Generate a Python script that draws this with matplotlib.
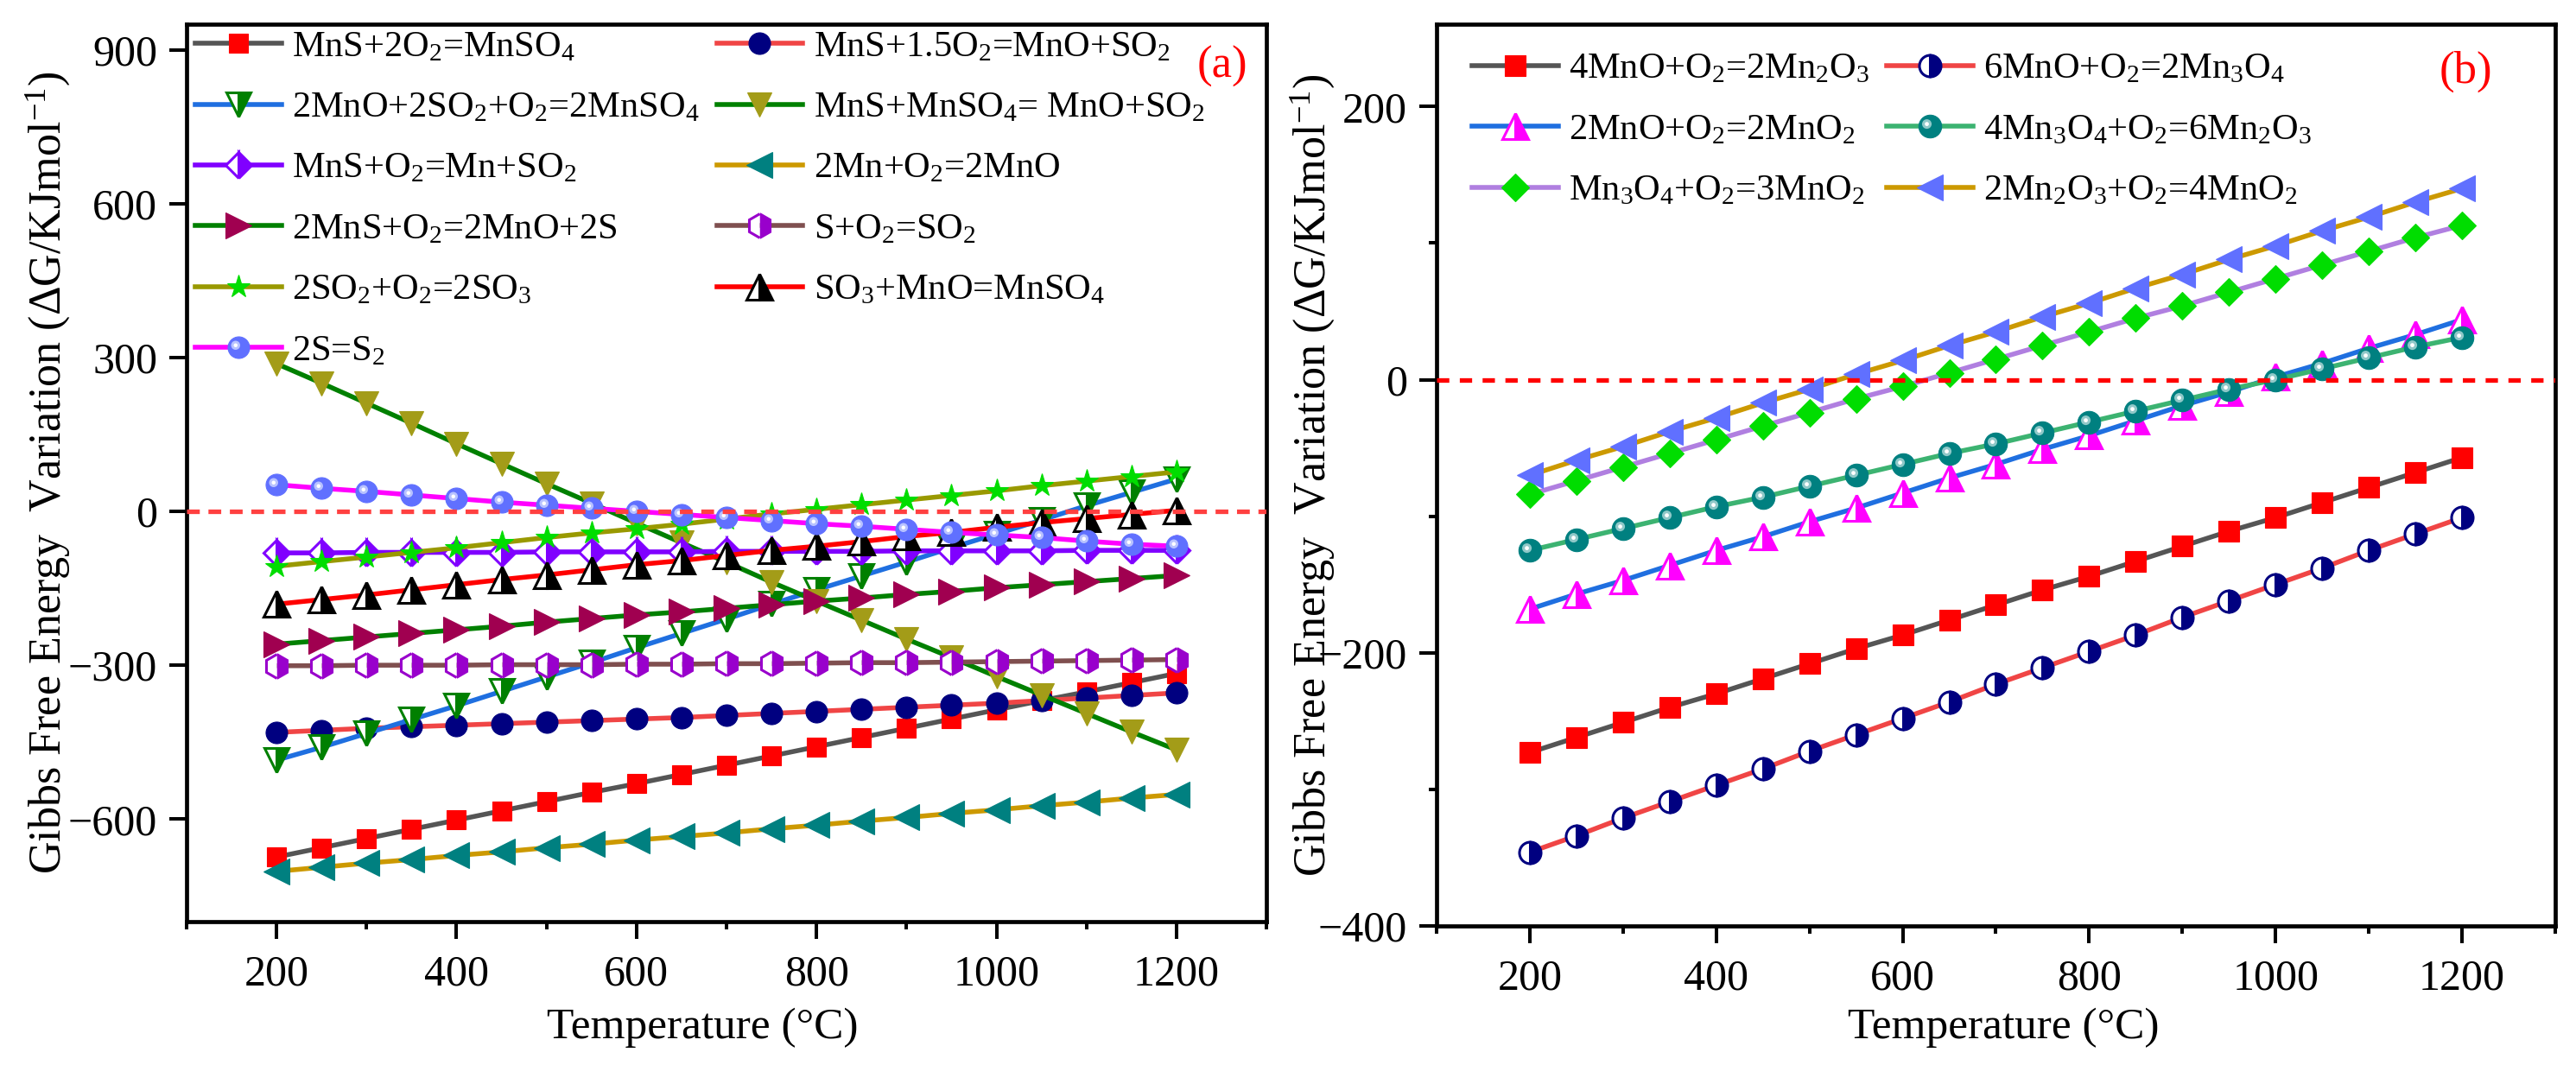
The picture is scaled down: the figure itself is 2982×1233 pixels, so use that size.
import matplotlib.pyplot as plt
from matplotlib.path import Path
from matplotlib.ticker import MultipleLocator
from matplotlib.legend_handler import HandlerTuple

plt.rcParams['font.family'] = ['Liberation Serif', 'DejaVu Serif']
plt.rcParams['mathtext.fontset'] = 'custom'
plt.rcParams['mathtext.rm'] = 'Liberation Serif'
plt.rcParams['mathtext.it'] = 'Liberation Serif:italic'
plt.rcParams['mathtext.bf'] = 'Liberation Serif:bold'

# temperatures (°C)
temps = [200, 250, 300, 350, 400, 450, 500, 550, 600, 650, 700,
         750, 800, 850, 900, 950, 1000, 1050, 1100, 1150, 1200]

# ---- panel (a), values (kJ/mol)
labels_a = [r'MnS+2O$_2$=MnSO$_4$', r'MnS+1.5O$_2$=MnO+SO$_2$',
            r'2MnO+2SO$_2$+O$_2$=2MnSO$_4$', r'MnS+MnSO$_4$= MnO+SO$_2$',
            r'MnS+O$_2$=Mn+SO$_2$', r'2Mn+O$_2$=2MnO',
            r'2MnS+O$_2$=2MnO+2S', r'S+O$_2$=SO$_2$',
            r'2SO$_2$+O$_2$=2SO$_3$', r'SO$_3$+MnO=MnSO$_4$',
            r'2S=S$_2$']
mns_to_mnso4 = [-674, -656, -638, -620, -602, -584, -566, -548, -531, -513, -495,
                -477, -459, -441, -423, -405, -387, -369, -352, -334, -316]
mns_to_mno_so2 = [-431, -427, -423, -420, -417, -414, -411, -408, -405, -402, -398,
                  -394, -390, -386, -382, -378, -374, -369, -364, -359, -354]
mno_so2_to_mnso4 = [-485, -460, -433, -406, -379, -351, -323, -295, -266, -238, -210,
                    -181, -153, -126, -99, -71, -44, -17, 11, 37, 63]
mns_mnso4 = [288, 250, 211, 172, 132, 93, 54, 16, -23, -61, -99,
             -138, -175, -212, -249, -285, -322, -358, -394, -430, -465]
mns_to_mn = [-81, -81, -80, -80, -80, -80, -79, -79, -79, -79, -78,
             -78, -78, -78, -77, -77, -77, -77, -76, -76, -76]
mn_to_mno = [-702, -694, -686, -679, -671, -664, -656, -649, -641, -634, -627,
             -619, -612, -604, -597, -589, -582, -574, -567, -559, -552]
mns_to_s = [-259, -252, -245, -238, -231, -224, -216, -209, -202, -196, -189,
            -182, -175, -169, -162, -156, -149, -143, -137, -131, -125]
s_to_so2 = [-301, -301, -300, -300, -300, -299, -299, -299, -298, -298, -297,
            -297, -296, -295, -295, -294, -293, -292, -291, -290, -289]
so2_to_so3 = [-107, -98, -89, -80, -71, -61, -51, -42, -34, -25, -15,
              -5, 4, 13, 22, 31, 40, 50, 59, 68, 77]
so3_to_mnso4 = [-181, -172, -163, -153, -143, -133, -124, -114, -104, -96, -86,
                -76, -68, -59, -49, -41, -31, -22, -14, -6, 2]
s_to_s2 = [52, 45, 39, 32, 25, 18, 12, 6, 0, -6, -12,
           -18, -24, -29, -35, -41, -46, -51, -58, -64, -68]
series_a = [mns_to_mnso4, mns_to_mno_so2, mno_so2_to_mnso4, mns_mnso4, mns_to_mn,
            mn_to_mno, mns_to_s, s_to_so2, so2_to_so3, so3_to_mnso4, s_to_s2]

# ---- panel (b)
labels_b = [r'4MnO+O$_2$=2Mn$_2$O$_3$', r'6MnO+O$_2$=2Mn$_3$O$_4$',
            r'2MnO+O$_2$=2MnO$_2$', r'4Mn$_3$O$_4$+O$_2$=6Mn$_2$O$_3$',
            r'Mn$_3$O$_4$+O$_2$=3MnO$_2$', r'2Mn$_2$O$_3$+O$_2$=4MnO$_2$']
mno_to_mn2o3 = [-273, -262, -251, -240, -230, -219, -208, -197, -187, -176, -165,
                -154, -144, -133, -122, -111, -101, -90, -79, -68, -57]
mno_to_mn3o4 = [-346, -334, -321, -309, -297, -285, -272, -260, -248, -236, -223,
                -211, -199, -187, -174, -162, -150, -138, -125, -113, -101]
mno_to_mno2 = [-168, -157, -147, -136, -125, -115, -104, -94, -83, -72, -62,
               -51, -41, -30, -19, -9, 2, 12, 23, 33, 44]
mn3o4_to_mn2o3 = [-125, -117, -109, -101, -93, -86, -78, -70, -62, -54, -47,
                  -39, -31, -23, -15, -7, 0, 8, 16, 24, 31]
mn3o4_to_mno2 = [-84, -74, -64, -54, -44, -34, -24, -14, -5, 5, 15,
                 25, 35, 45, 54, 64, 74, 84, 94, 104, 113]
mn2o3_to_mno2 = [-70, -59, -49, -38, -28, -17, -7, 4, 14, 25, 35,
                 46, 56, 67, 77, 88, 98, 109, 119, 130, 140]
series_b = [mno_to_mn2o3, mno_to_mn3o4, mno_to_mno2, mn3o4_to_mn2o3,
            mn3o4_to_mno2, mn2o3_to_mno2]

# styles: line colour, marker, marker colour, size, half-filled, glint colour
styles_a = [
    ('#555555', 's', '#ff0000', 16, False, None),
    ('#f04545', 'o', '#000080', 18, False, None),
    ('#1f6fe0', 'v', '#008000', 20, True, None),
    ('#008000', 'v', '#a39c18', 20, False, None),
    ('#8000ff', 'D', '#8000ff', 15, True, None),
    ('#cc9900', '<', '#008080', 21, False, None),
    ('#008000', '>', '#a00050', 21, False, None),
    ('#7f4f4f', 'h', '#9900cc', 20, True, None),
    ('#999900', '*', '#00dd00', 20, False, None),
    ('#ff0000', '^', '#000000', 21, True, None),
    ('#ff00ff', 'o', '#6070ff', 18, False, '#b8c2ff'),
]
styles_b = [
    ('#555555', 's', '#ff0000', 17, False, None),
    ('#f04545', 'o', '#000080', 18, True, None),
    ('#1f6fe0', '^', '#ff00ff', 21, True, None),
    ('#3cb371', 'o', '#008080', 19, False, '#8fc8c8'),
    ('#b07fe0', 'D', '#00dd00', 16, False, None),
    ('#cc9900', '<', '#6070ff', 22, False, None),
]


def spot(r):
    # small highlight circle, upper left; padding vertex keeps the scale
    c = Path.circle((-0.3, 0.22), r)
    pad = Path([(1, 0), (1, 0)], [Path.MOVETO, Path.LINETO])
    return Path.make_compound_path(c, pad)


def draw(ax, vals, st):
    line, mk, mc, ms, half, glint = st
    kw = dict(color=line, lw=4, marker=mk, ms=ms, mfc=mc, mec=mc, zorder=3)
    if half:
        kw.update(fillstyle='right', markerfacecoloralt='white', mew=2.2)
    else:
        kw.update(mew=0.8)
    h, = ax.plot(temps, vals, **kw)
    if glint is None:
        return h
    g1, = ax.plot(temps, vals, ls='none', marker=spot(0.42), ms=ms, mfc=glint, mew=0, zorder=3)
    g2, = ax.plot(temps, vals, ls='none', marker=spot(0.18), ms=ms, mfc='white', mew=0, zorder=3)
    return (h, g1, g2)


def style_axes(ax):
    for s in ax.spines.values():
        s.set_linewidth(3.4)
    ax.set_xlim(100, 1300)
    ax.xaxis.set_major_locator(MultipleLocator(200))
    ax.xaxis.set_minor_locator(MultipleLocator(100))
    ax.tick_params(which='both', direction='out', top=False, right=False, width=2.9)
    ax.tick_params(which='major', length=14.4, labelsize=36)
    ax.tick_params(which='minor', length=6.5)
    ax.tick_params(axis='x', pad=13)
    ax.tick_params(axis='y', pad=10)


fig = plt.figure(figsize=(29.82, 12.33), dpi=100)
ax1 = fig.add_axes([0.07243, 0.13463, 0.41919, 0.84266])
ax2 = fig.add_axes([0.55768, 0.13058, 0.43427, 0.84631])

ylab = r'Gibbs Free Energy  Variation (ΔG/KJmol$^{-1}$)'
leg_kw = dict(ncol=2, loc='upper left', frameon=False, fontsize=30.5,
              borderpad=0, borderaxespad=0, handlelength=2.35,
              handletextpad=0.3, columnspacing=0.47, labelspacing=0.75,
              handler_map={tuple: HandlerTuple(ndivide=1)})

# panel (a)
hs = [draw(ax1, v, st) for v, st in zip(series_a, styles_a)]
ax1.axhline(0, color='#ff4040', lw=3.8, dashes=(2.8, 1.9), zorder=5)
style_axes(ax1)
ax1.set_ylim(-800, 950)
ax1.yaxis.set_major_locator(MultipleLocator(300))
ax1.set_xlabel('Temperature (°C)', fontsize=37)
ax1.xaxis.set_label_coords(0.478, -0.096)
ax1.set_ylabel(ylab, fontsize=37.5)
ax1.yaxis.set_label_coords(-0.106, 0.5)
ax1.text(0.959, 0.953, '(a)', color='red', fontsize=38, ha='center', va='center',
         transform=ax1.transAxes)
order = [0, 2, 4, 6, 8, 10, 1, 3, 5, 7, 9]
ax1.legend([hs[i] for i in order], [labels_a[i] for i in order],
           bbox_to_anchor=(0.008, 0.993), **leg_kw)

# panel (b)
hs = [draw(ax2, v, st) for v, st in zip(series_b, styles_b)]
ax2.axhline(0, color='#ff0000', lw=3.8, dashes=(2.7, 2.3), zorder=5)
style_axes(ax2)
ax2.set_ylim(-400, 260)
ax2.yaxis.set_major_locator(MultipleLocator(200))
ax2.yaxis.set_minor_locator(MultipleLocator(100))
ax2.set_xlabel('Temperature (°C)', fontsize=37)
ax2.xaxis.set_label_coords(0.507, -0.091)
ax2.set_ylabel(ylab, fontsize=37.5)
ax2.yaxis.set_label_coords(-0.0896, 0.5)
ax2.text(0.920, 0.948, '(b)', color='red', fontsize=38, ha='center', va='center',
         transform=ax2.transAxes)
order = [0, 2, 4, 1, 3, 5]
ax2.legend([hs[i] for i in order], [labels_b[i] for i in order],
           bbox_to_anchor=(0.0317, 0.969), **leg_kw)

fig.savefig('out.png', dpi=100)
